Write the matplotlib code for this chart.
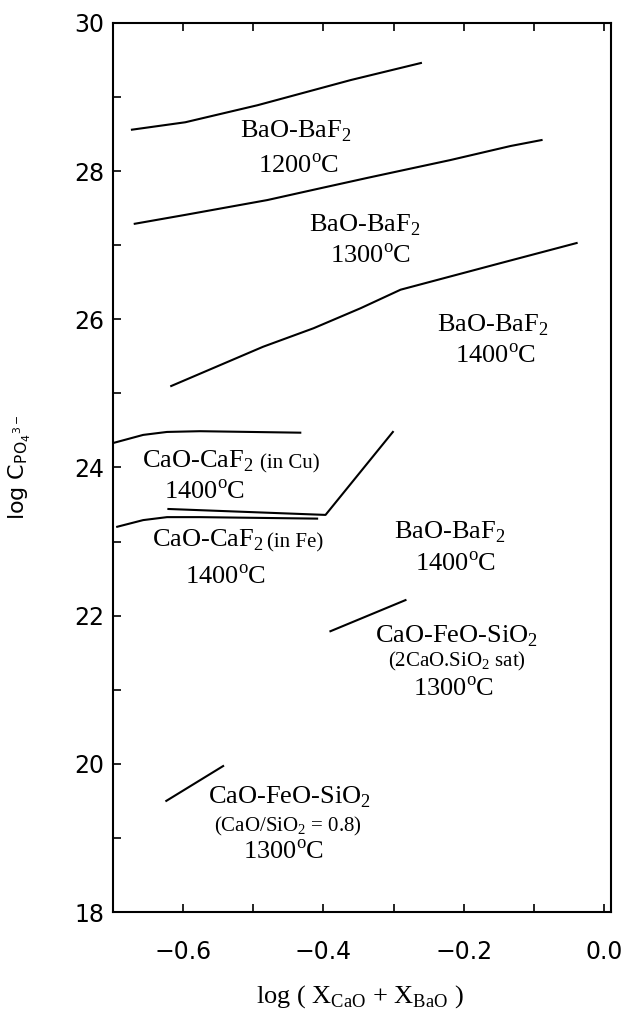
import matplotlib.pyplot as plt
from matplotlib.ticker import MultipleLocator

plt.rcParams['mathtext.fontset'] = 'custom'
plt.rcParams['mathtext.rm'] = 'Liberation Serif'

# curves: x = log(X_CaO + X_BaO), y = log C_PO4
bab_1200_x = [-0.673, -0.597, -0.494, -0.404, -0.361, -0.261]
bab_1200_y = [28.56, 28.66, 28.89, 29.12, 29.23, 29.46]

bab_1300_x = [-0.669, -0.597, -0.48, -0.404, -0.337, -0.219, -0.133, -0.089]
bab_1300_y = [27.29, 27.41, 27.61, 27.77, 27.91, 28.15, 28.34, 28.42]

bab_1400_x = [-0.617, -0.486, -0.414, -0.347, -0.29, -0.147, -0.039]
bab_1400_y = [25.10, 25.63, 25.88, 26.15, 26.40, 26.76, 27.03]

bab_1400b_x = [-0.621, -0.397, -0.301]
bab_1400b_y = [23.44, 23.36, 24.48]

cacu_x = [-0.70, -0.657, -0.623, -0.576, -0.433]
cacu_y = [24.33, 24.44, 24.48, 24.49, 24.47]

cafe_x = [-0.694, -0.657, -0.623, -0.576, -0.409]
cafe_y = [23.20, 23.29, 23.33, 23.33, 23.31]

cfs_sat_x = [-0.39, -0.283]
cfs_sat_y = [21.79, 22.21]

cfs_08_x = [-0.624, -0.543]
cfs_08_y = [19.50, 19.97]

xticks = [-0.6, -0.4, -0.2, 0.0]
xticklabels = ['\u22120.6', '\u22120.4', '\u22120.2', '0.0']
yticks = [18, 20, 22, 24, 26, 28, 30]

fig = plt.figure(figsize=(6.34, 10.13), dpi=100)
ax = fig.add_axes([113 / 634, 1 - 912 / 1013, 498 / 634, 889 / 1013])

for xs, ys in [(bab_1200_x, bab_1200_y), (bab_1300_x, bab_1300_y),
               (bab_1400_x, bab_1400_y), (bab_1400b_x, bab_1400b_y),
               (cacu_x, cacu_y), (cafe_x, cafe_y),
               (cfs_sat_x, cfs_sat_y), (cfs_08_x, cfs_08_y)]:
    ax.plot(xs, ys, color='black', lw=1.5)

ax.set_xlim(-0.70, 0.01)
ax.set_ylim(18, 30)

ax.set_xticks(xticks)
ax.set_xticklabels(xticklabels)
ax.xaxis.set_minor_locator(MultipleLocator(0.1))
ax.set_yticks(yticks)
ax.yaxis.set_minor_locator(MultipleLocator(1))
ax.tick_params(axis='x', which='both', direction='in', top=True, bottom=True,
               length=6, width=1.2, pad=20, labelsize=17)
ax.tick_params(axis='y', which='both', direction='in', left=True, right=False,
               length=6, width=1.2, pad=6, labelsize=17)
for s in ax.spines.values():
    s.set_linewidth(1.5)

serif = 'Liberation Serif'
big = 19
small = 15
deg = r'$^{\mathregular{o}}$C'

def lab(x, y, s, size=big, ha='center'):
    ax.text(x, y, s, fontsize=size, family=serif, ha=ha, va='center')

lab(-0.439, 28.54, r'BaO-BaF$_{2}$')
lab(-0.435, 28.06, '1200' + deg)
lab(-0.341, 27.27, r'BaO-BaF$_{2}$')
lab(-0.333, 26.85, '1300' + deg)
lab(-0.159, 25.92, r'BaO-BaF$_{2}$')
lab(-0.154, 25.50, '1400' + deg)

lab(-0.659, 24.08, r'CaO-CaF$_{2}$', ha='left')
lab(-0.49, 24.05, '(in Cu)', size=small, ha='left')
lab(-0.569, 23.66, '1400' + deg)

lab(-0.644, 23.02, r'CaO-CaF$_{2}$', ha='left')
lab(-0.481, 22.98, '(in Fe)', size=small, ha='left')
lab(-0.539, 22.52, '1400' + deg)

lab(-0.22, 23.13, r'BaO-BaF$_{2}$')
lab(-0.211, 22.69, '1400' + deg)

lab(-0.21, 21.72, r'CaO-FeO-SiO$_{2}$')
lab(-0.21, 21.38, r'(2CaO.SiO$_{2}$ sat)', size=small)
lab(-0.214, 21.00, '1300' + deg)

lab(-0.449, 19.55, r'CaO-FeO-SiO$_{2}$')
lab(-0.451, 19.16, r'(CaO/SiO$_{2}$ = 0.8)', size=small)
lab(-0.457, 18.80, '1300' + deg)

ax.set_ylabel(r'log C$_{\mathregular{PO_4}^{\mathregular{3-}}}$', fontsize=16)
ax.yaxis.set_label_coords(-0.16, 0.50)
ax.set_xlabel(r'log ( X$_{\mathregular{CaO}}$ + X$_{\mathregular{BaO}}$ )',
              fontsize=19, family=serif)
ax.xaxis.set_label_coords(0.496, -0.08)

fig.savefig('out.png', dpi=100)
